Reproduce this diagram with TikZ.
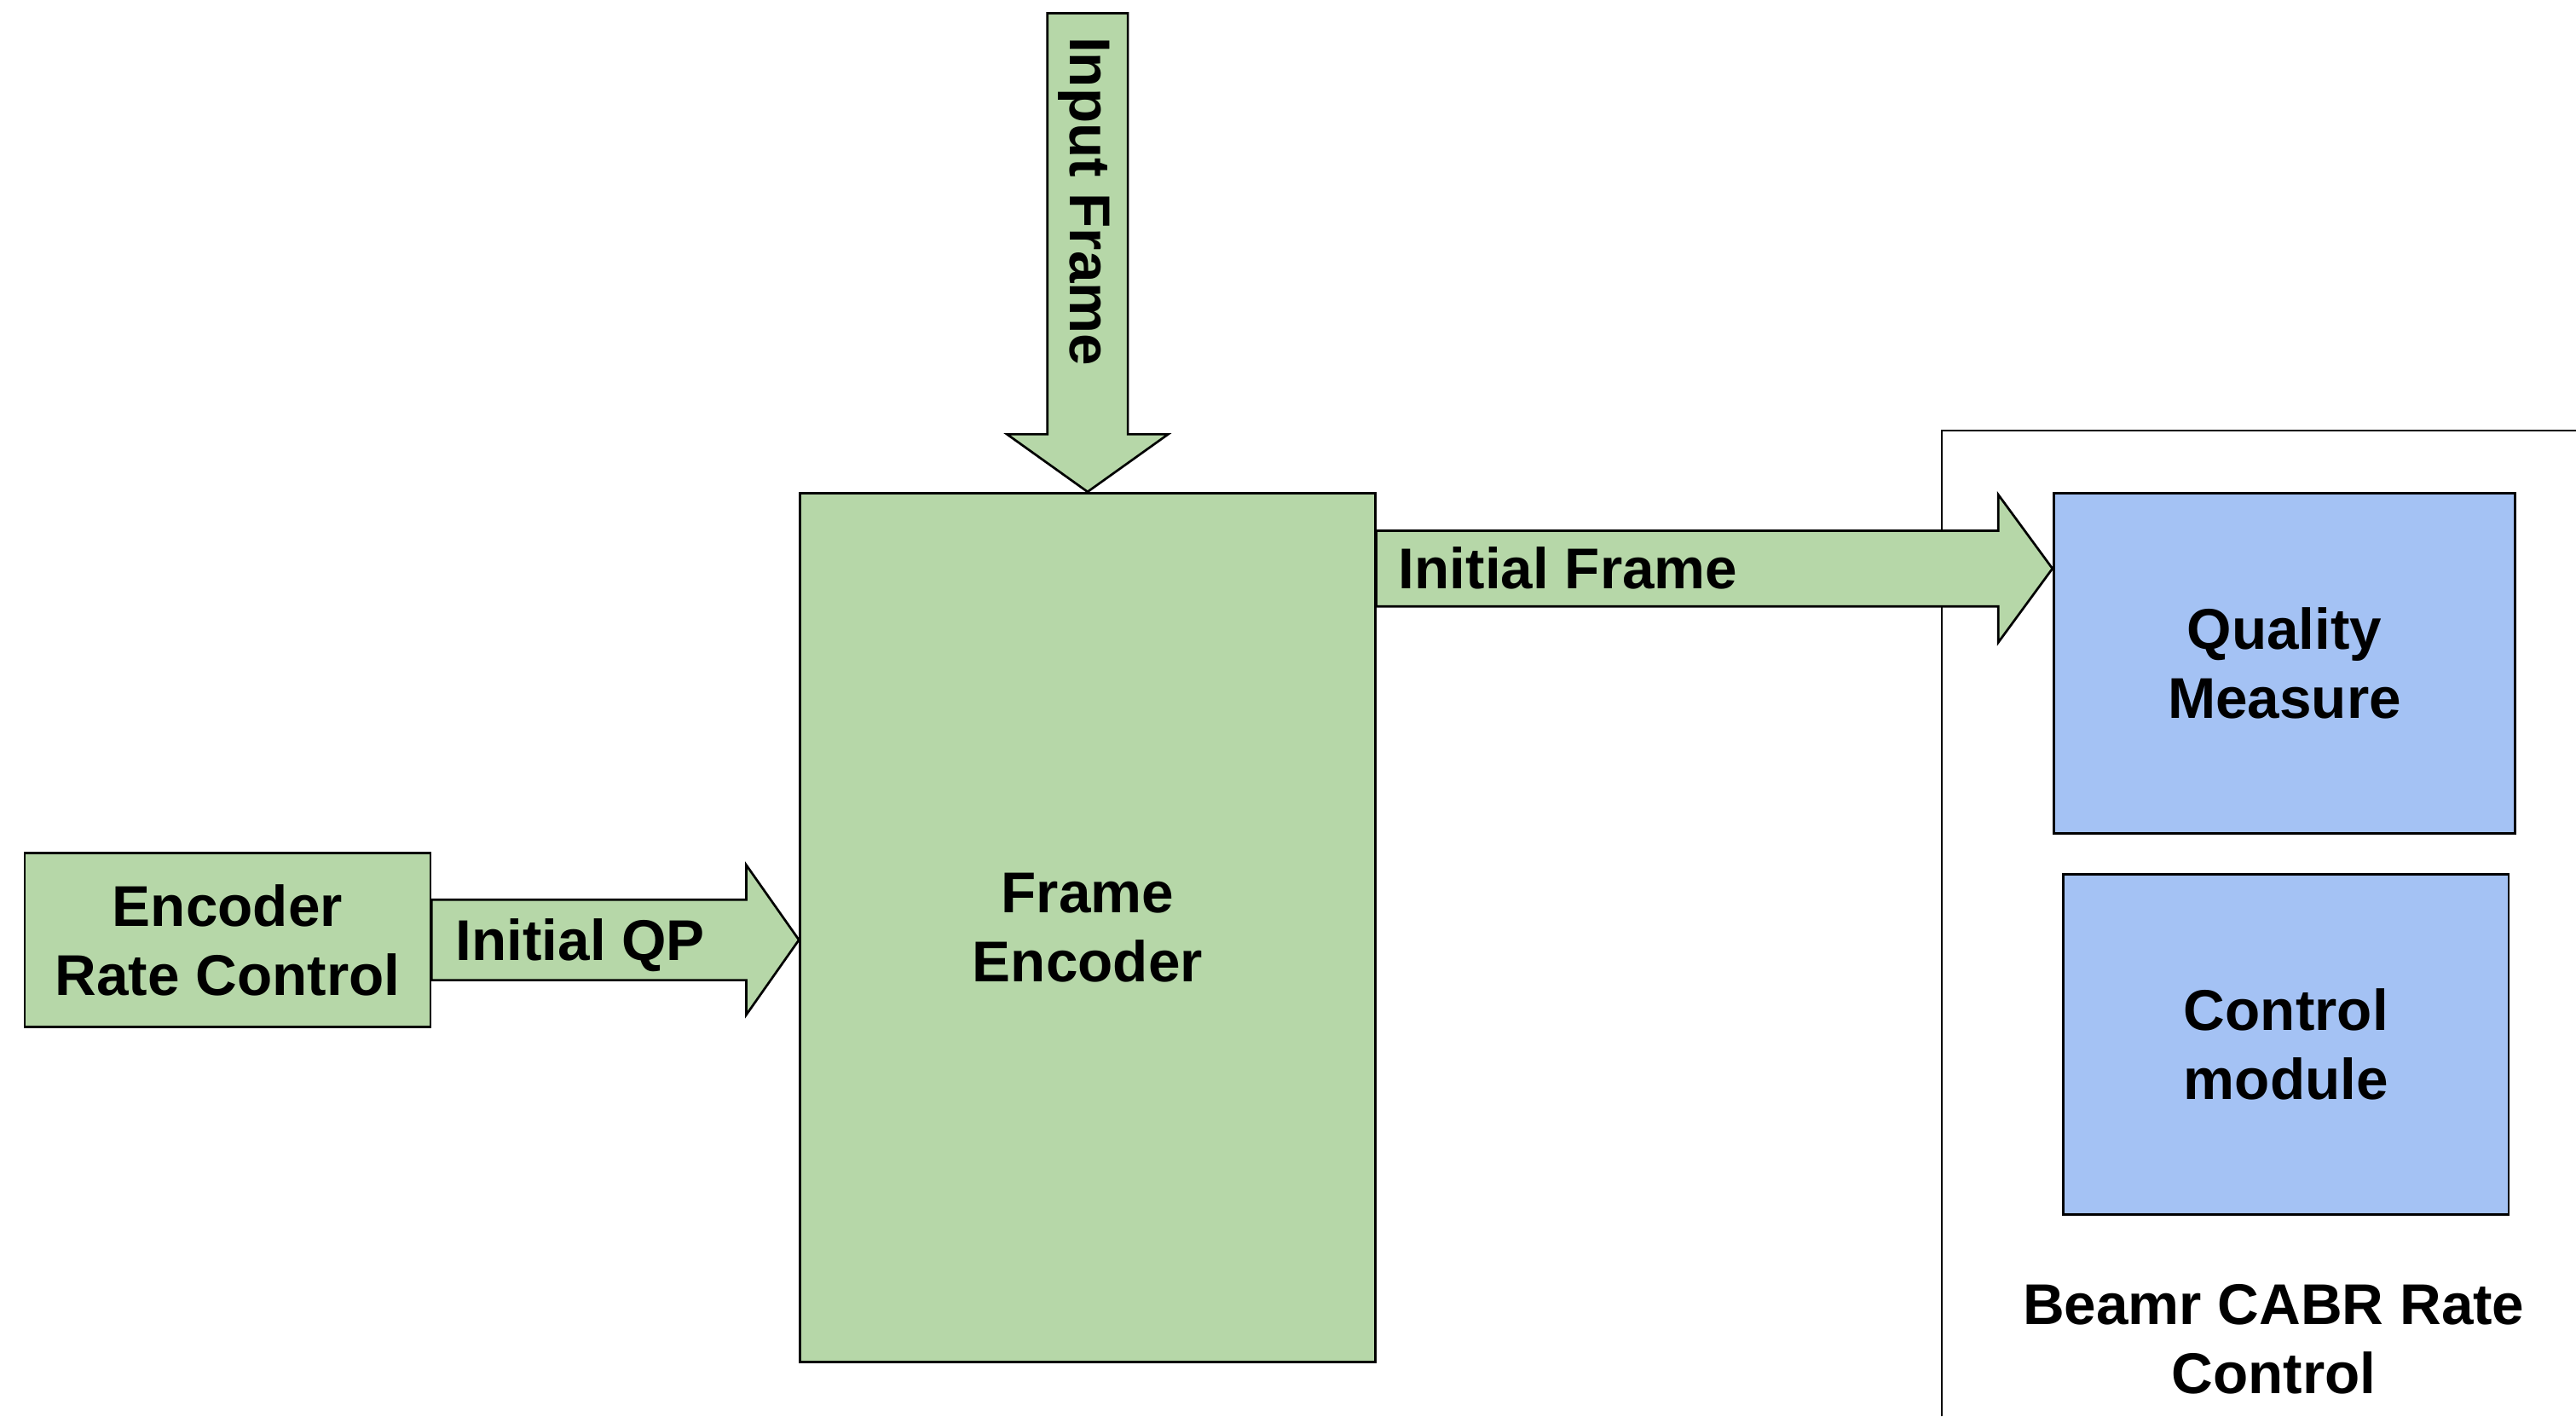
\documentclass[tikz,border=0pt]{standalone}
\usepackage{fontspec}
\setmainfont{Liberation Sans}
\usetikzlibrary{calc}
\definecolor{boxgreen}{HTML}{B6D7A8}
\definecolor{boxblue}{HTML}{A4C2F4}
\tikzset{
  base/.style={draw=black, line width=0.7pt, inner sep=0pt, align=center,
    font=\fontsize{17.5}{21}\selectfont\bfseries},
  gbox/.style={base, fill=boxgreen},
  bbox/.style={base, fill=boxblue},
  arr/.style={draw=black, line width=0.7pt, fill=boxgreen, line join=miter},
  lbl/.style={inner sep=0pt, align=center, font=\fontsize{17.5}{21}\selectfont\bfseries},
  grpline/.style={draw=black, line width=0.7pt}
}
% start, end, shaft half-width, head half-width, head length
\newcommand\blockarr[5]{%
  \path ($(#2)!#5!(#1)$) coordinate (bh);
  \draw[arr] ($(#1)!#3!90:(#2)$) -- ($(bh)!#3!90:(#2)$) -- ($(bh)!#4!90:(#2)$)
    -- (#2) -- ($(bh)!#4!-90:(#2)$) -- ($(bh)!#3!-90:(#2)$) -- ($(#1)!#3!-90:(#2)$) -- cycle;}
\begin{document}
\begin{tikzpicture}[x=0.5pt, y=-0.5pt]
\useasboundingbox[fill=white] (0,0) rectangle (1568,862);

% group frame of Beamr CABR Rate Control
\draw[grpline] (1182,862) -- (1182,262) -- (1568,262);

% boxes
\node[gbox, minimum width=175pt, minimum height=264.5pt] (fe) at (662,564.5) {Frame\\Encoder};
\node[gbox, minimum width=123.5pt, minimum height=53pt] (erc) at (138.5,572) {Encoder\\Rate Control};
\node[bbox, minimum width=140.5pt, minimum height=103.5pt] (qm) at (1390.5,403.5) {Quality\\Measure};
\node[bbox, minimum width=135.5pt, minimum height=103.5pt] (cm) at (1391.5,635.5) {Control\\module};
\node[lbl] (beamr) at (1384,815) {Beamr CABR Rate\\Control};

% coordinates for arrows
\coordinate (inTop) at (662,8);
\coordinate (qpE) at (fe.west |- erc.east);
\coordinate (ify) at (0,346);
\coordinate (ifS) at (fe.east |- ify);
\coordinate (ifE) at (qm.west |- ify);

% block arrows
\blockarr{inTop}{fe.north}{12.25pt}{24.5pt}{17.5pt}
\blockarr{erc.east}{qpE}{12.25pt}{22.75pt}{16pt}
\blockarr{ifS}{ifE}{11.5pt}{22.5pt}{16.5pt}

% arrow labels
\node[lbl, rotate=-90, anchor=west] (lin) at (660,22) {Input Frame};
\node[lbl, anchor=west] (lqp) at (277,575) {Initial QP};
\node[lbl, anchor=west] (lif) at (851,346) {Initial Frame};
\end{tikzpicture}
\end{document}
